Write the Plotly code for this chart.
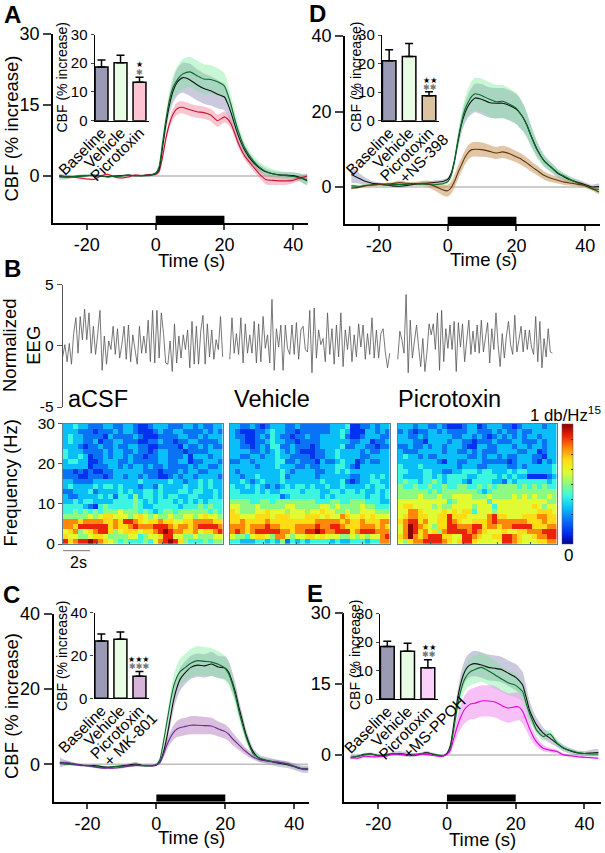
import plotly.graph_objects as go

W, H = 605, 853
FONT = "Liberation Sans"

# ---------- time knots shared by the CBF traces (s) ----------
T = [-28,-26,-24,-22,-20,-18,-16,-14,-12,-10,-8,-6,-4,-2,
     -1,0,1,2,3,4,5,6,7,8,
     10,12,14,16,18,20,
     21,22,23,24,25,26,
     28,30,32,34,36,38,40,42,44]

# ---------- panel A ----------
A_base = [-.1,-.2,-.1,0,.1,.1,0,-.1,0,.1,.2,.1,.1,.2,
          .3,.5,1.5,6,11,15,17.8,19.5,20.4,20.8,
          20.3,19.3,18.5,18,17.3,16.7,
          15.2,13.2,10.8,8.6,6.8,5.3,
          3.2,1.8,.9,.5,.3,.2,.1,-.3,-1.0]
A_base_e = [.6,.5,.3,.3,.3,.2,.2,.2,.2,.2,.2,.2,.2,.2,
            .2,.3,.6,1,1.5,2,2.4,2.8,3,3.2,
            3.4,3.3,3.2,3.1,3,2.8,
            2.5,2.2,1.8,1.5,1.3,1.1,
            .9,.8,.7,.6,.6,.6,.7,.8,.9]
A_veh = [.1,-.2,-.1,0,.1,.2,.1,-.2,0,0,.2,.1,.1,.1,
         .3,.6,2,7,12,16,18.6,20,21,21.6,
         22,21.2,20.5,20.4,19.9,19,
         17.2,14.8,12,9.6,7.5,5.8,
         3.6,2,1,.5,.2,.1,-.1,-.4,-.7]
A_veh_e = [.4,.3,.3,.3,.3,.2,.2,.2,.2,.2,.2,.2,.2,.2,
           .2,.3,.6,1,1.5,2,2.4,2.8,3,3.2,
           3.2,3.2,3.1,3,2.9,2.7,
           2.4,2.1,1.8,1.5,1.3,1.2,
           1.1,1.1,1.1,1,.9,.8,.8,.9,1.1]
A_drug = [.1,-.1,-.2,-.4,-.6,-.7,0,.4,-.2,-.4,-.2,.2,.1,.3,
          .3,.4,1,4,8,11,13,14.1,14.5,14.5,
          14,13.6,13.4,12.9,11.7,12.5,
          12,10.9,9,7,5.4,4.1,
          2.3,.6,-.7,-.9,-1,-1,-.9,-.4,0]
A_drug_e = [.2,.2,.2,.2,.2,.2,.2,.2,.2,.2,.2,.2,.2,.2,
            .2,.3,.5,.7,.9,1,1.2,1.3,1.3,1.3,
            1.3,1.3,1.3,1.3,1.3,1.2,
            1.1,1,.9,.9,.8,.8,
            .8,.9,1,1,.9,.8,.6,.5,.5]

# ---------- panel D ----------
D_base = [3.3,2.4,1.5,1,.8,.6,.3,.2,.4,.7,.9,1,1.2,1.4,
          1.6,2,3.5,7,12,16.5,19.5,21.5,22.8,23.6,
          23.2,22.4,22.2,22.2,21.6,20.6,
          19.6,18.3,16.5,14.2,12,10,
          7,5.3,3.6,2.6,1.8,1.2,.6,0,.1]
D_base_e = [2.2,1.5,1,.6,.4,.3,.3,.3,.3,.4,.5,.5,.5,.5,
            .5,.5,.8,1.2,1.7,2.2,2.6,3,3.5,3.8,
            4,4,4,4,4,4,
            4,3.6,3.2,2.8,2.4,2,
            1.5,1.3,1.1,.9,.8,.7,.6,.6,.8]
D_veh = [.3,.2,.4,.6,.7,.5,.7,.7,.7,.9,.8,.7,.6,.8,
         1,1.4,3,7,12.5,17,20.5,22.5,24,24.7,
         24.2,23.3,22.6,22.7,21.9,20.8,
         19.6,18.3,16.5,14,11.8,9.8,
         7,5.3,3.8,2.8,1.8,1,.3,-.5,-.6]
D_veh_e = [.5,.4,.3,.3,.3,.3,.3,.3,.3,.3,.3,.3,.3,.3,
           .4,.5,.9,1.4,2,2.6,3.1,3.6,4,4.3,
           4.5,4.5,4.5,4.3,4.2,4.1,
           4,3.7,3.3,2.9,2.5,2.1,
           1.6,1.2,1,.8,.7,.6,.5,.5,.5]
D_drug = [-.3,-.1,.3,.5,.7,.8,.9,1.2,1,.9,.9,.9,.3,-.5,
          -.9,-1,-.2,1.5,3.8,5.8,7.8,9.2,9.9,10,
          9.9,9.5,9,9.3,8.8,8,
          7.6,7,6.4,5.7,5,4.4,
          3.1,2.3,1.8,1.3,1,.7,.4,-.4,-1.3]
D_drug_e = [.3,.3,.3,.3,.3,.3,.4,.5,.4,.4,.6,.8,1.1,1.4,
            1.5,1.6,1.6,1.7,1.8,1.8,1.9,1.9,1.9,1.9,
            1.9,1.7,1.6,1.6,1.6,1.5,
            1.5,1.5,1.4,1.4,1.3,1.3,
            1.1,1,.9,.8,.7,.6,.5,.5,.6]

# ---------- panel C ----------
C_base = [.5,.3,.1,-.2,-.4,-.3,-.6,-.8,-.6,-.4,-.2,.1,-.3,-.4,
          -.4,-.2,.6,3,7,12,17,20.5,22.8,24,
          25.8,26.4,26.2,26.7,25.9,25.6,
          24.5,22,19,15,11.5,8,
          3.5,1.5,1,.6,.2,-.1,-.6,-1.2,-1.3]
C_base_e = [1.3,.6,.3,.3,.3,.3,.3,.3,.3,.3,.4,.6,.3,.3,
            .3,.3,.6,1.2,1.7,2.2,2.6,2.8,3,3,
            3.1,3.1,3.1,3.2,3,3,
            2.9,2.7,2.4,2.1,1.8,1.5,
            1,.9,.9,.9,.9,.9,.9,.9,.9]
C_veh = [.2,0,-.1,-.3,-.3,-.6,-.8,-.8,-.6,-.5,-.4,-.2,-.4,-.4,
         -.3,-.1,1.2,5.6,10.9,16.2,20.7,23.3,24.8,25.5,
         26.9,27.6,27.4,27.2,26.6,25.5,
         24,21.5,18,14,10.5,7.4,
         3,1.6,1.1,.7,.4,0,-.6,-1.1,-1.2]
C_veh_e = [.5,.3,.2,.2,.2,.2,.2,.2,.2,.2,.2,.2,.2,.2,
           .2,.3,.6,1.2,1.8,2.4,2.8,3.2,3.5,3.6,
           3.8,3.9,3.8,3.7,3.5,3.3,
           3,2.7,2.4,2,1.7,1.4,
           .9,.6,.5,.5,.5,.5,.5,.5,.5]
C_drug = [.4,.4,.1,-.2,-.4,-.7,-1,-1,-1,-.8,-.5,-.3,-.3,-.3,
          -.3,-.1,.5,2.5,5,7,8.5,9.4,9.8,10,
          10.4,10.4,10.3,10.2,9.4,8.7,
          8,6.9,6,5.1,4.2,3.4,
          2,1.2,.9,.7,.5,.2,-.5,-1.1,-1.3]
C_drug_e = [.4,.6,.4,.3,.3,.3,.3,.3,.3,.3,.3,.3,.3,.3,
            .3,.3,.5,.9,1.3,1.6,1.9,2.1,2.3,2.3,
            2.4,2.4,2.3,2.2,2,1.9,
            1.8,1.7,1.5,1.3,1.1,1,
            .7,.6,.5,.5,.5,.5,.4,.4,.4]

# ---------- panel E ----------
E_base = [-.5,-.3,.1,.2,-.1,-.1,.2,.3,.1,-.1,.1,.5,.1,-.2,
          -.2,.3,2,6.5,11.5,15,17.3,18.6,19.1,19.3,
          19,18.5,18.3,18,17.2,16.4,
          15.7,14.8,12.3,9.5,7.8,6.4,
          4.6,3.5,2.4,1.4,.8,.4,.3,.4,.5]
E_base_e = [.4,.3,.3,.3,.3,.3,.3,.5,.5,.4,.3,.3,.3,.3,
            .3,.3,.6,1.2,1.7,2.1,2.4,2.5,2.6,2.7,
            2.7,2.7,2.7,2.7,2.7,2.8,
            2.8,2.8,2.4,2,1.7,1.5,
            1.2,1,.8,.7,.6,.5,.5,.7,.7]
E_veh = [-.6,-.3,0,.2,-.2,0,.3,.1,0,.1,.2,.4,.2,-.1,
         -.2,.2,1.5,5.5,10,13.5,15.8,17,17.7,18,
         18.5,17.8,16.9,16,15.2,14.7,
         14.1,13.4,11,8.8,7,5.3,
         3.9,4.4,2.5,1.4,.9,.5,.3,.2,.2]
E_veh_e = [.4,.3,.3,.2,.2,.2,.2,.2,.2,.2,.2,.2,.2,.2,
           .2,.3,.6,1.2,1.8,2.2,2.5,2.7,2.9,3,
           3,3,2.9,2.7,2.6,2.5,
           2.3,2.1,1.8,1.5,1.2,1,
           .9,.9,.6,.5,.4,.3,.3,.3,.3]
E_drug = [-.6,-.7,-.3,-.4,-.4,-.3,.1,.2,0,-.1,.2,.1,-.1,-.3,
          -.2,.1,1,3.5,6,8,9.5,10.3,10.8,10.9,
          11.4,11.4,11.2,10.4,9.9,10.2,
          10.1,9.2,7.5,5.6,4,2.8,
          1.4,1,.7,0,-.2,-.4,-.5,-.6,-.7]
E_drug_e = [.3,.3,.3,.2,.2,.2,.2,.2,.2,.2,.2,.2,.2,.2,
            .2,.3,.7,1.3,2,2.5,2.9,3.1,3.2,3.3,
            3.3,3.3,3.3,3.2,3.1,3,
            2.8,2.6,2.2,1.8,1.4,1.1,
            .7,.5,.4,.3,.2,.2,.2,.2,.2]

STIM = [0, 20]

# ---------- inset bars ----------
BAR_LABELS = ["Baseline", "Vehicle", "Picrotoxin"]
A_bar_vals = [18.7, 20.2, 13.4]
A_bar_errs = [2.4, 2.6, 1.7]
D_bar_vals = [21, 22.5, 8.7]
D_bar_errs = [3.8, 4.5, 1.4]
C_bar_vals = [26.8, 27.6, 10.3]
C_bar_errs = [3.2, 3.4, 2.2]
E_bar_vals = [18.5, 16.8, 11]
E_bar_errs = [1.8, 2.8, 2.8]

# ---------- EEG (normalized) ----------
EEG_aCSF = [-.9,.1,-1.3,.2,-1.5,1,2.3,-.6,2.4,.5,3,.5,2.7,-.6,1.6,-.7,1,2.9,-2,.8,-1.5,.4,-.3,1.6,-.7,1.4,-1,.1,1.6,-1.1,1.7,-1.3,.9,-.3,-1.5,1.6,-.6,.8,-.6,2.1,-1.3,2.9,-1.4,2.9,-1,2.7,1,-1.4,-1.5,.4,-2.1,1.8,-1.4,.8,-1,.9,-.3,1.3,-1.8,2,-1.5,1.6,-1.5,1.2,2.5,-1.5,1.8,-.9,1.3,-1.1,.5,-.3,2.4,-.9]
EEG_vehicle = [-1.1,2.3,-.6,1,-.7,2.3,-1.4,1.8,-.6,.9,-.6,2,-1.4,1.8,-1.3,2.4,-.2,.9,-1.4,3.8,-2,1.4,-.1,1.7,-2,1.7,-.2,-.7,1.7,-.7,1.9,-1.1,1.3,1.6,-.3,-.5,2.9,-2.2,3.1,-1,1.3,.1,.6,-1.3,2.7,-.7,1.4,-1.5,1.7,-.9,2.7,-1.7,1.3,-.3,1.6,-1.3,.9,-.9,1.8,-.1,1.7,-1.1,1,-.7,2.3,-1,1.3,-1,1,1.4,-.5,-1.8,-.6]
EEG_picro = [-1.1,1.2,.5,-.6,4.2,-2.2,2.1,-1,.4,1.7,-.1,-1.7,.6,-2.1,-.5,1.8,.9,1.8,-.3,2.7,-2,2.9,-1.3,1.4,-.2,1.7,-.3,2,-2.1,1.9,-.1,1.8,-1.3,.5,2.1,-.7,1.2,-.5,1.7,-.6,2.1,-.5,.9,1.9,-1.4,1.4,-.3,2.7,.1,-1.7,1,-1,.8,2,.1,-.7,2.5,-.5,.5,1.6,-.5,1.3,-.3,1.3,-.1,-.7,2.4,-1.3,2,-1.8,.6,-.9,1.4,-.5,-.6]
EEG_DURATION = [12.0, 12.0, 11.6]
EEG_OFFSET = [0.0, 12.53, 25.13]

# ---------- spectrograms: 24 rows top to bottom, 32 columns, power level 0..9, X = 10 ----------
SPEC_aCSF = [
"3343 3222 3322 3321 1233 3222 3323 2233",
"3332 2212 2232 3321 1123 2233 2222 3232",
"3433 2222 1322 2232 1112 2223 3223 2333",
"3433 2231 2233 2221 1223 2212 2332 2223",
"3332 1223 2232 2332 2112 2221 3223 2322",
"4333 2222 3233 2232 2123 3222 1222 2333",
"4334 3122 3233 2322 1223 3222 3133 3233",
"3443 3112 3332 2322 2223 3223 3122 3332",
"3333 3122 2332 3233 2322 3222 2323 3223",
"2212 1211 2233 3333 2221 2223 2332 2333",
"2221 1222 1233 2332 3221 1232 3323 3332",
"3322 2233 3333 3334 3333 3433 2334 3433",
"3433 3343 4434 3332 3324 3333 4334 3433",
"2233 3423 3334 3433 4434 3334 4344 3343",
"3223 3334 3424 4353 4434 3443 3443 3343",
"3343 4433 3344 4454 3434 4434 3434 3444",
"4444 3214 5444 4454 3344 4443 4445 4544",
"4454 5454 5556 5554 5434 5545 5555 5454",
"5555 5656 7766 6567 6565 5655 6656 7665",
"8887 8888 7787 9987 6778 7766 7788 8877",
"8879 9999 9787 7898 8899 9878 8789 9998",
"6785 6789 9756 7776 7789 X988 7786 7789",
"7665 5677 6555 5664 5667 9966 5565 5566",
"9789 9X98 7654 5444 5468 9X97 5444 5455",
]
SPEC_vehicle = [
"3322 3212 3332 2322 2222 3334 1122 3233",
"3211 1223 4332 2122 2222 3343 1113 3232",
"3221 1232 4322 1223 2233 3342 1123 3322",
"3321 1223 4332 2122 2233 3333 2233 1223",
"3322 1232 4422 3222 1233 3342 2332 2122",
"3333 2232 3432 3211 1223 3433 3323 2233",
"3322 3323 3433 2222 1223 3433 3322 3333",
"2233 2333 3442 2322 2132 2343 3123 2233",
"3333 3233 3433 3223 2233 3443 2133 3333",
"3233 3333 3343 2333 3223 3434 3333 3333",
"3323 3433 3342 3333 3233 3333 2233 4343",
"3343 2343 3343 3333 3343 3342 1233 4433",
"4334 3432 3234 3443 4334 3343 3334 3443",
"4433 3434 3344 4434 4433 4434 4343 3434",
"4444 4444 4423 4444 4434 3444 4443 4434",
"5555 4455 4555 5555 5444 5544 5554 4433",
"6655 5655 5556 6555 5566 5655 5565 5444",
"7655 5667 6665 6665 6676 6556 5566 6555",
"7766 6777 6777 6667 7767 6687 6676 7666",
"7787 7778 7777 7777 7888 8878 7787 7788",
"8887 8889 8877 7888 8988 9987 7788 8787",
"8987 8999 9988 7889 9X98 8999 7899 9888",
"6554 6776 5886 5667 7676 6655 6565 6689",
"4433 3443 4352 4343 4444 3433 4443 4488",
]
SPEC_picro = [
"3332 3322 3211 1233 1233 3221 2333 3233",
"2321 2233 2322 2233 2223 2322 3223 3333",
"3322 3233 3332 2332 3212 3232 3233 2333",
"3332 2133 3323 3221 2223 2223 3222 3233",
"2232 2323 3233 3211 3322 3332 3323 3233",
"3222 3333 3233 2232 3222 3333 2233 1233",
"3433 2322 3333 3322 3233 2322 3332 2133",
"3333 3333 2133 2233 3222 2212 3332 1323",
"4333 4333 3333 2333 2233 3322 3233 3334",
"4433 3443 3223 3444 3443 3343 4433 3334",
"4333 3443 4344 4433 4444 3434 3311 1123",
"4544 3445 4344 4324 4443 3243 4444 4434",
"5445 4454 4544 5544 5454 5555 4545 4544",
"5555 5545 4555 5555 4345 5555 5555 5555",
"5555 6555 6556 6665 5565 5556 5656 5565",
"6666 6666 6645 6666 6646 6666 6666 6655",
"6776 6665 6556 6665 6664 6666 6667 6566",
"6688 7666 6767 6774 6665 6666 6666 7776",
"6788 7766 7797 7766 6689 7766 6777 8877",
"7899 7866 7798 7667 7789 8888 8877 7877",
"68X9 8765 7799 8889 9788 7889 9997 7788",
"68X9 7867 5899 9989 8766 6766 7788 8999",
"78X8 7899 9776 6998 7667 7998 7667 8899",
"6578 8999 9876 7997 6666 6998 7666 7788",
]
SPEC_SECONDS = 12
SPEC_MAX_HZ = 30
SPEC_COLORS = ["rgb(0,0,150)", "rgb(0,50,240)", "rgb(10,115,245)", "rgb(10,190,250)",
               "rgb(60,245,225)", "rgb(140,250,130)", "rgb(225,250,50)", "rgb(255,220,20)",
               "rgb(255,135,10)", "rgb(235,35,10)", "rgb(140,0,0)"]

# ---------- helpers ----------
def dom_x(left, right):
    return [left / W, right / W]

def dom_y(top, bottom):
    return [1 - bottom / H, 1 - top / H]

fig = go.Figure()
annotations = []
shapes = []
axis_count = 0

def new_axes(xcfg, ycfg):
    global axis_count
    axis_count += 1
    suffix = "" if axis_count == 1 else str(axis_count)
    xname, yname = "x" + suffix, "y" + suffix
    xcfg = dict(xcfg, anchor=yname)
    ycfg = dict(ycfg, anchor=xname)
    fig.update_layout(**{"xaxis" + suffix: xcfg, "yaxis" + suffix: ycfg})
    return xname, yname

def text(s, px, py, size, color="black", angle=0, anchor="center", family=FONT, bold=False):
    if bold:
        s = "<b>" + s + "</b>"
    annotations.append(dict(text=s, x=px / W, y=1 - py / H, xref="paper", yref="paper",
                            showarrow=False, xanchor=anchor, yanchor="middle", textangle=angle,
                            font=dict(family=family, size=size, color=color),
                            borderpad=0, borderwidth=0))

GRAY_BAND, GRAY_LINE = "rgba(140,135,180,0.45)", "#111111"
GREEN_BAND, GREEN_LINE = "rgba(110,235,145,0.38)", "#0b6b25"

def band(xa, ya, mean, err, color):
    up = [m + e for m, e in zip(mean, err)]
    lo = [m - e for m, e in zip(mean, err)]
    fig.add_trace(go.Scatter(x=T + T[::-1], y=up + lo[::-1], xaxis=xa, yaxis=ya, mode="lines",
                             fill="toself", fillcolor=color,
                             line=dict(width=0, shape="spline", smoothing=0.6),
                             hoverinfo="skip", showlegend=False))

def curve(xa, ya, mean, color, width=1.1):
    fig.add_trace(go.Scatter(x=T, y=mean, xaxis=xa, yaxis=ya, mode="lines",
                             line=dict(color=color, width=width, shape="spline", smoothing=0.6),
                             hoverinfo="skip", showlegend=False))

def main_panel(px_box, xrange, yrange, yticks, base, base_e, veh, veh_e, drug, drug_e,
               drug_band, drug_line, order="drug_last"):
    l, r, t, b = px_box
    xa, ya = new_axes(
        dict(domain=dom_x(l, r), range=xrange, tickvals=[-20, 0, 20, 40],
             ticktext=["-20", "0", "20", "40"], showline=True,
             linecolor="black", linewidth=1.6, ticks="outside", ticklen=5, tickwidth=1.6,
             showgrid=False, zeroline=False,
             tickfont=dict(family=FONT, size=18, color="black")),
        dict(domain=dom_y(t, b), range=yrange, tickvals=yticks, showline=True,
             linecolor="black", linewidth=1.6, ticks="outside", ticklen=8, tickwidth=1.6,
             showgrid=False, zeroline=False,
             tickfont=dict(family=FONT, size=18, color="black")))
    shapes.append(dict(type="line", xref=xa, yref=ya, x0=T[0], x1=T[-1], y0=0, y1=0,
                       line=dict(color="#bdbdbd", width=1.5), layer="below"))
    thick = (yrange[1] - yrange[0]) * 7.3 / (b - t)
    shapes.append(dict(type="rect", xref=xa, yref=ya, x0=STIM[0], x1=STIM[1],
                       y0=yrange[0], y1=yrange[0] + thick, fillcolor="black", line=dict(width=0)))
    band(xa, ya, base, base_e, GRAY_BAND)
    band(xa, ya, veh, veh_e, GREEN_BAND)
    band(xa, ya, drug, drug_e, drug_band)
    if order == "drug_last":
        curve(xa, ya, base, GRAY_LINE)
        curve(xa, ya, veh, GREEN_LINE)
        curve(xa, ya, drug, drug_line)
    else:
        curve(xa, ya, drug, drug_line)
        curve(xa, ya, base, GRAY_LINE)
        curve(xa, ya, veh, GREEN_LINE)

def inset(px_box, xrange, yrange, yticks, labels, vals, errs, drug_color):
    l, r, t, b = px_box
    xa, ya = new_axes(
        dict(domain=dom_x(l, r), range=xrange, tickvals=[0, 1, 2], ticktext=labels,
             tickangle=-45, showline=True, linecolor="black", linewidth=1.4, ticks="",
             ticklabelstandoff=-4, showgrid=False, zeroline=False,
             tickfont=dict(family=FONT, size=15.5, color="black")),
        dict(domain=dom_y(t, b), range=yrange, tickvals=yticks, showline=True,
             linecolor="black", linewidth=1.4, ticks="outside", ticklen=3, tickwidth=1.4,
             showgrid=False, zeroline=False,
             tickfont=dict(family=FONT, size=15, color="black")))
    fig.add_trace(go.Bar(x=[0, 1, 2], y=vals, xaxis=xa, yaxis=ya, width=0.68,
                         marker=dict(color=["#9b9ab4", "#e8fde4", drug_color],
                                     line=dict(color="black", width=1.5)),
                         error_y=dict(type="data", symmetric=False, array=errs,
                                      arrayminus=[0, 0, 0], color="black", thickness=1.5, width=4),
                         hoverinfo="skip", showlegend=False))

# ---------- CBF panels ----------
main_panel((53, 308, 34, 223), [-29.85, 44.3], [-9.9, 30], [0, 15, 30],
           A_base, A_base_e, A_veh, A_veh_e, A_drug, A_drug_e,
           "rgba(240,110,140,0.40)", "#c8142e", order="drug_first")
inset((94.7, 149, 34.5, 120.7), [-0.36, 2.5], [0, 30], [0, 10, 20, 30],
      BAR_LABELS, A_bar_vals, A_bar_errs, "#ffc4d4")

main_panel((345, 600, 36, 224), [-29.85, 44.3], [-9.8, 40], [0, 20, 40],
           D_base, D_base_e, D_veh, D_veh_e, D_drug, D_drug_e,
           "rgba(200,150,90,0.55)", "#5a3a10")
inset((382, 439, 35, 120.7), [-0.36, 2.5], [0, 30], [0, 10, 20, 30],
      BAR_LABELS, D_bar_vals, D_bar_errs, "#dcc29e")

main_panel((53.5, 309, 614, 801.7), [-29.85, 44.3], [-9.95, 40], [0, 20, 40],
           C_base, C_base_e, C_veh, C_veh_e, C_drug, C_drug_e,
           "rgba(170,110,180,0.45)", "#6a2a9a")
inset((94.5, 149, 612.7, 698.3), [-0.36, 2.5], [0, 40], [0, 20, 40],
      BAR_LABELS, C_bar_vals, C_bar_errs, "#d8b4dc")

main_panel((344.3, 601, 613, 801.7), [-29.85, 44.8], [-9.9, 30], [0, 15, 30],
           E_base, E_base_e, E_veh, E_veh_e, E_drug, E_drug_e,
           "rgba(240,130,240,0.50)", "#e000e0")
inset((380, 438, 613.7, 699), [-0.36, 2.5], [0, 30], [0, 10, 20, 30],
      BAR_LABELS, E_bar_vals, E_bar_errs, "#fcd0fc")

# ---------- EEG ----------
xa, ya = new_axes(
    dict(domain=dom_x(62.7, 560), range=[0, 37.3], visible=False),
    dict(domain=dom_y(284.7, 407), range=[-5, 5], tickvals=[-5, 0, 5], ticktext=["-5", "0", "5"],
         showline=True, linecolor="#555555", linewidth=1, ticks="outside", ticklen=5, tickwidth=1,
         tickcolor="#555555", showgrid=False, zeroline=False,
         tickfont=dict(family=FONT, size=15.5, color="black")))
for vals, dur, off in zip([EEG_aCSF, EEG_vehicle, EEG_picro], EEG_DURATION, EEG_OFFSET):
    step = dur / (len(vals) - 1)
    fig.add_trace(go.Scatter(x=[off + i * step for i in range(len(vals))], y=vals, xaxis=xa, yaxis=ya,
                             mode="lines", line=dict(color="#555555", width=0.8),
                             hoverinfo="skip", showlegend=False))

# ---------- spectrograms ----------
def levels(rows):
    out = []
    for row in rows[::-1]:
        row = row.replace(" ", "")
        out.append([10 if c == "X" else int(c) for c in row])
    return out

FRAME = "#5f7f8f"
for k, (rows, left, right) in enumerate([(SPEC_aCSF, 63, 222.5), (SPEC_vehicle, 230, 389.5),
                                         (SPEC_picro, 397.7, 556.7)]):
    z = levels(rows)
    nr, nc = len(z), len(z[0])
    xa, ya = new_axes(
        dict(domain=dom_x(left, right), range=[0, SPEC_SECONDS], tickvals=[2.5, 5, 7.5, 10],
             showline=True, mirror=True, linecolor=FRAME, linewidth=1, ticks="inside", ticklen=2,
             tickcolor="#445566", showticklabels=False, showgrid=False, zeroline=False),
        dict(domain=dom_y(423.7, 544), range=[0, SPEC_MAX_HZ], tickvals=[0, 10, 20, 30],
             showline=True, mirror=True, linecolor=FRAME, linewidth=1,
             ticks="outside" if k == 0 else "", ticklen=4, tickcolor="#555555",
             showgrid=False, zeroline=False, showticklabels=k == 0,
             tickfont=dict(family=FONT, size=15.5, color="black")))
    fig.add_trace(go.Heatmap(z=z, x=[(i + .5) * SPEC_SECONDS / nc for i in range(nc)],
                             y=[(i + .5) * SPEC_MAX_HZ / nr for i in range(nr)],
                             xaxis=xa, yaxis=ya, coloraxis="coloraxis", hoverinfo="skip"))

# ---------- free text ----------
text("A", 4, 15, 24, bold=True, anchor="left")
text("B", 4, 268, 24, bold=True, anchor="left")
text("C", 3, 594, 24, bold=True, anchor="left")
text("D", 309, 14, 24, bold=True, anchor="left")
text("E", 307, 593, 24, bold=True, anchor="left")

text("CBF (% increase)", 11, 128.5, 18.5, angle=-90)
text("CBF (% increase)", 11, 706, 18.5, angle=-90)
text("CBF (% increase)", 62, 77.5, 14, angle=-90)
text("CBF (% increase)", 356, 77, 14, angle=-90)
text("CBF (% increase)", 62, 656, 14, angle=-90)
text("CBF (% increase)", 355, 655, 14, angle=-90)
text("Normalized<br>EEG", 21, 345, 18.5, angle=-90)
text("Frequency (Hz)", 10, 483.5, 18.5, angle=-90)

text("+NS-398", 423.7, 158.7, 15.5, angle=-45)
text("+ MK-801", 130, 739, 15.5, angle=-45)
text("+MS-PPOH", 433.7, 727, 15.5, angle=-45)

text("Time (s)", 191, 261, 18.5)
text("Time (s)", 483, 259, 18.5)
text("Time (s)", 191, 837, 18.5)
text("Time (s)", 482, 839, 18.5)

text("aCSF", 68, 399, 23.5, anchor="left")
text("Vehicle", 234, 399, 23.5, anchor="left")
text("Picrotoxin", 398, 399, 23.5, anchor="left")
text("1 db/Hz<sup>15</sup>", 530, 413.5, 16.8, anchor="left")
text("0", 568, 555, 17)
text("2s", 78, 562, 16)

STAR_BLACK, STAR_GRAY = "★", "✱"
SYM = "DejaVu Sans"
text(STAR_BLACK, 139.5, 64, 8, family=SYM)
text(STAR_GRAY, 139.5, 72, 8, color="#777777", family=SYM)
text(STAR_BLACK * 2, 429.5, 80, 8, family=SYM)
text(STAR_GRAY * 2, 429.5, 87.5, 8, color="#777777", family=SYM)
text(STAR_BLACK * 3, 139, 659, 8, family=SYM)
text(STAR_GRAY * 3, 139, 666.5, 8, color="#777777", family=SYM)
text(STAR_BLACK * 2, 429, 647, 8, family=SYM)
text(STAR_GRAY * 2, 429, 654.5, 8, color="#777777", family=SYM)

# 2 s scale bar under the first spectrogram
shapes.append(dict(type="line", xref="paper", yref="paper", x0=63 / W, x1=90 / W,
                   y0=1 - 550.7 / H, y1=1 - 550.7 / H, line=dict(color="#777777", width=1)))

spec_scale = [[i / 10, c] for i, c in enumerate(SPEC_COLORS)]
fig.update_layout(
    width=W, height=H, autosize=False, margin=dict(l=0, r=0, t=0, b=0, pad=0, autoexpand=False),
    paper_bgcolor="white", plot_bgcolor="rgba(0,0,0,0)", showlegend=False,
    bargap=0.3, annotations=annotations, shapes=shapes,
    font=dict(family=FONT, color="black"),
    coloraxis=dict(cmin=0, cmax=10, colorscale=spec_scale,
                   colorbar=dict(x=562 / W, xanchor="left", y=1 - 544 / H, yanchor="bottom",
                                 lenmode="fraction", len=120.3 / H, thicknessmode="pixels", thickness=11,
                                 xpad=0, ypad=0, outlinewidth=0.5, outlinecolor="#555555",
                                 ticks="inside", ticklen=2, tickcolor="#333333",
                                 tickvals=[0, 1.25, 2.5, 3.75, 5, 6.25, 7.5, 8.75, 10],
                                 showticklabels=False)),
)
fig.write_html("out.html", config={"displayModeBar": False},
               post_script="document.body.style.margin='0';")
